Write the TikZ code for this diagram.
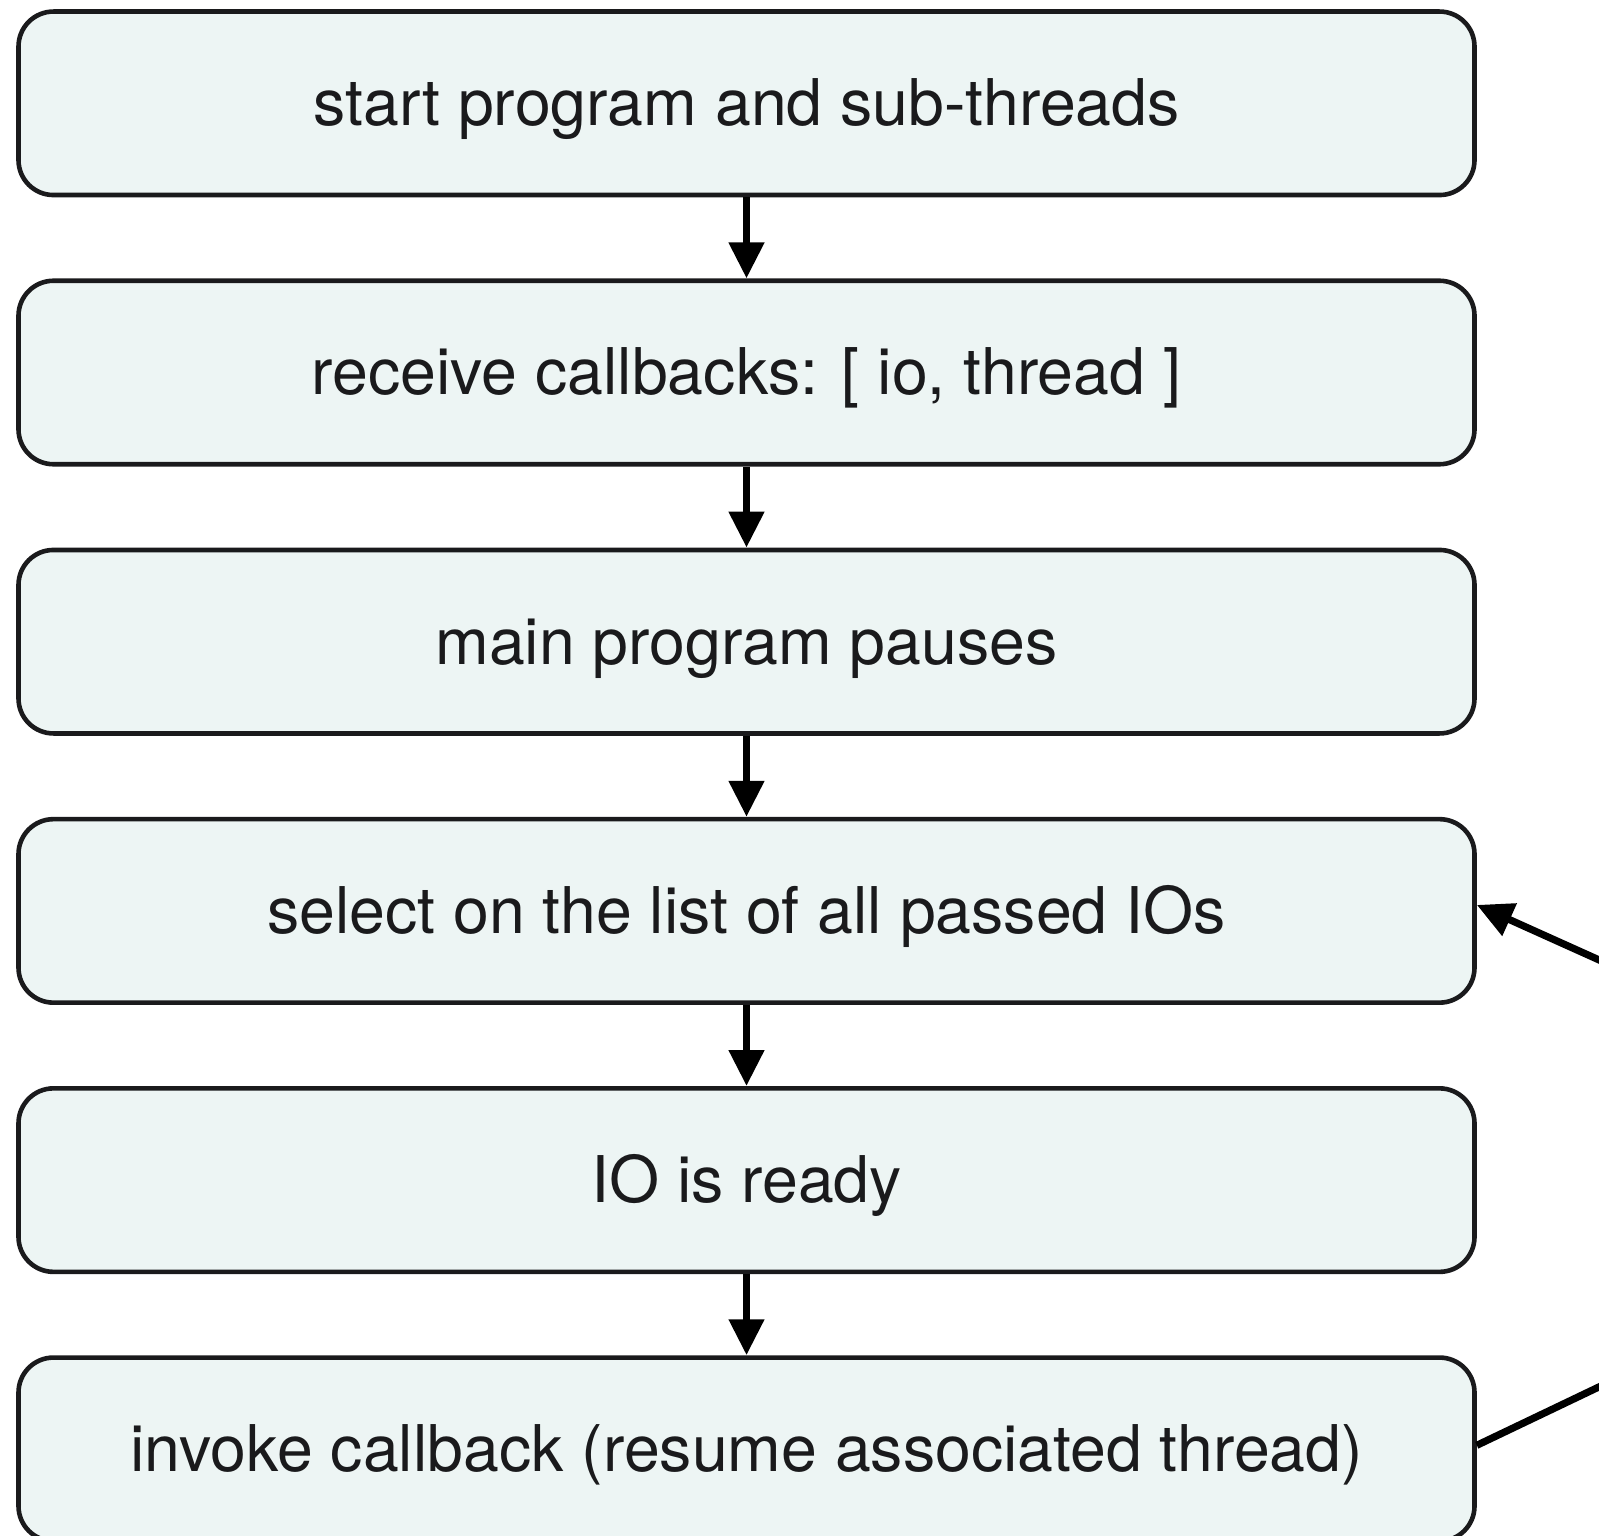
\documentclass[tikz,border=0pt]{standalone}
\usepackage{fontspec}
\setmainfont{TeX Gyre Heros}
\usetikzlibrary{arrows.meta}
\definecolor{boxfill}{RGB}{237,245,244}
\definecolor{boxline}{RGB}{26,26,28}
\begin{document}
\begin{tikzpicture}[x=0.5pt,y=-0.5pt,
  stepbox/.style={draw=boxline, fill=boxfill, line width=2.3pt, rounded corners=17.5pt,
    minimum width=728pt, minimum height=91.75pt, inner sep=0pt,
    text height=22.4pt, text depth=0pt,
    text=boxline, font=\fontsize{32.2}{39}\selectfont},
  flow/.style={line width=3.8pt, draw=black, -{Triangle[length=18pt,width=17pt]}},
  loopline/.style={line width=3.6pt, draw=black, line join=miter, -{Triangle[length=18pt,width=17pt]}}]
\useasboundingbox (0,0) rectangle (1599,1535);
\clip (0,0) rectangle (1599,1535);
\node[stepbox] (n1) at (746.5,103.3) {start program and sub-threads};
\node[stepbox] (n2) at (746.5,372.5) {receive callbacks: [ io, thread ]};
\node[stepbox] (n3) at (746.5,641.7) {main program pauses};
\node[stepbox] (n4) at (746.5,910.9) {select on the list of all passed IOs};
\node[stepbox] (n5) at (746.5,1180.1) {IO is ready};
\node[stepbox] (n6) at (746.5,1449.3) {invoke callback (resume associated thread)};
\coordinate (apex) at (2059,1167);
\draw[flow] (n1.south) -- (n2.north);
\draw[flow] (n2.south) -- (n3.north);
\draw[flow] (n3.south) -- (n4.north);
\draw[flow] (n4.south) -- (n5.north);
\draw[flow] (n5.south) -- (n6.north);
\draw[loopline] ([yshift=2pt]n6.east) -- (apex) -- ([yshift=3pt]n4.east);
\end{tikzpicture}
\end{document}
